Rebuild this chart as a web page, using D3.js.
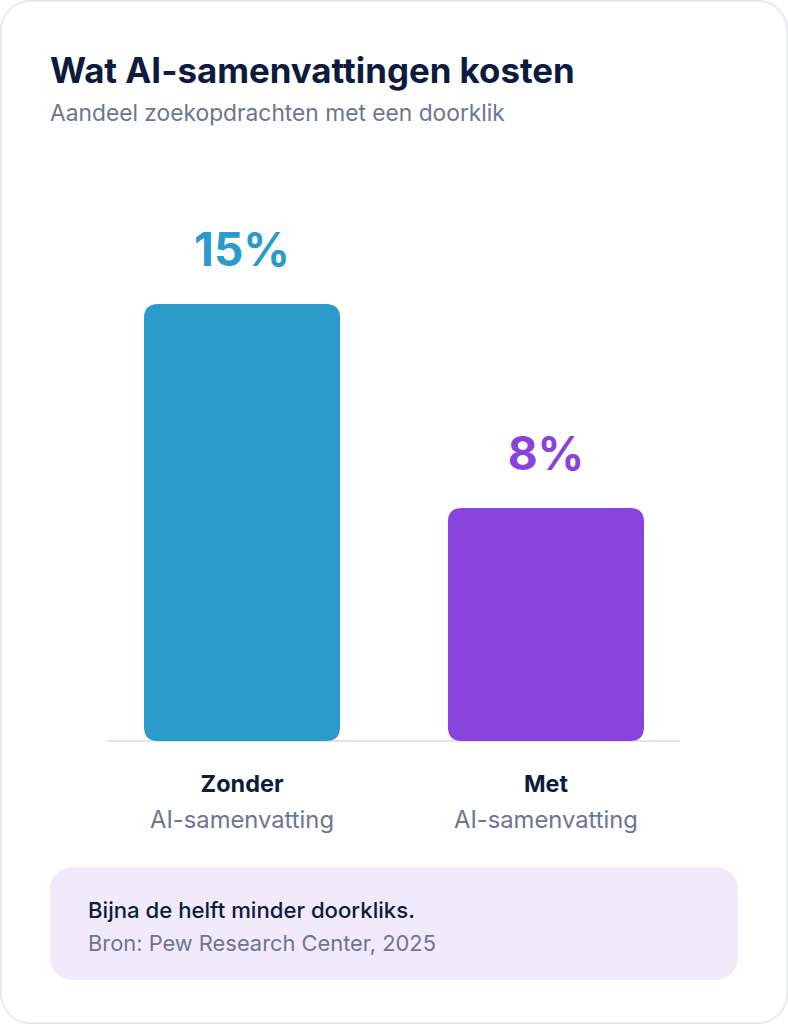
<!DOCTYPE html>
<html>
<head>
<meta charset="utf-8">
<script src="https://cdn.jsdelivr.net/npm/d3@7"></script>
<style>
  html, body { margin: 0; padding: 0; background: #ffffff; }
  svg { display: block; font-family: "Inter", "Noto Sans", sans-serif; }
</style>
</head>
<body>
<svg id="chart" width="788" height="1024"></svg>
<script>
// ---- data ----
const categories = ["Zonder", "Met"];
const subLabels = ["AI-samenvatting", "AI-samenvatting"];
const values = [15, 8];
const valueLabels = ["15%", "8%"];
const barColors = ["#2a9bcb", "#8843dc"];
const title = "Wat AI-samenvattingen kosten";
const subtitle = "Aandeel zoekopdrachten met een doorklik";
const noteLines = ["Bijna de helft minder doorkliks.", "Bron: Pew Research Center, 2025"];

// ---- layout ----
const W = 788, H = 1024;
const svg = d3.select("#chart");
const navy = "#0d1b3e", gray = "#6e7491";

// fit a text element's font size so its width matches a target (font widths differ from the original)
function fit(sel, target, base) {
  sel.attr("font-size", base);
  const w = sel.node().getComputedTextLength();
  sel.attr("font-size", base * target / w);
  return sel;
}

// card
svg.append("rect")
  .attr("x", 0.75).attr("y", 0.75).attr("width", W - 1.5).attr("height", H - 1.5)
  .attr("rx", 30).attr("fill", "#ffffff").attr("stroke", "#e4e5e8").attr("stroke-width", 1.5);

// titles
fit(svg.append("text").attr("x", 50).attr("y", 83)
  .attr("font-weight", 700).attr("fill", navy).text(title), 525, 30);
fit(svg.append("text").attr("x", 50).attr("y", 121)
  .attr("font-weight", 400).attr("fill", gray).text(subtitle), 455, 19);

// scales
const x = d3.scaleBand().domain(categories).range([144, 644]).paddingInner(0.355).paddingOuter(0);
const y = d3.scaleLinear().domain([0, 15]).range([741, 304]);

const data = categories.map((c, i) => ({ c, v: values[i], lab: valueLabels[i], sub: subLabels[i], col: barColors[i] }));

// baseline
svg.append("line")
  .attr("x1", 107).attr("x2", 680).attr("y1", y(0)).attr("y2", y(0))
  .attr("stroke", "#d9dbe0").attr("stroke-width", 1.5);

// bars with rounded corners
const r = 14;
function barPath(x0, y0, w, h) {
  return `M${x0},${y0 + r}
    Q${x0},${y0} ${x0 + r},${y0}
    H${x0 + w - r}
    Q${x0 + w},${y0} ${x0 + w},${y0 + r}
    V${y0 + h - r}
    Q${x0 + w},${y0 + h} ${x0 + w - r},${y0 + h}
    H${x0 + r}
    Q${x0},${y0 + h} ${x0},${y0 + h - r}
    Z`;
}
svg.selectAll("path.bar").data(data).join("path")
  .attr("class", "bar")
  .attr("d", d => barPath(x(d.c), y(d.v), x.bandwidth(), y(0) - y(d.v)))
  .attr("fill", d => d.col);

// value labels
const valTargets = [87, 68];
svg.selectAll("text.val").data(data).join("text")
  .attr("class", "val")
  .attr("x", d => x(d.c) + x.bandwidth() / 2)
  .attr("y", d => y(d.v) - 38)
  .attr("text-anchor", "middle")
  .attr("font-weight", 700)
  .attr("font-size", 46)
  .attr("fill", d => d.col)
  .text(d => d.lab);

// category labels
const catTargets = [83, 44];
svg.selectAll("text.cat").data(data).join("text")
  .attr("class", "cat")
  .attr("x", d => x(d.c) + x.bandwidth() / 2)
  .attr("y", 792)
  .attr("text-anchor", "middle")
  .attr("font-weight", 700)
  .attr("fill", navy)
  .text(d => d.c)
  .each(function(d, i) { fit(d3.select(this), catTargets[i], 21); });
svg.selectAll("text.sub").data(data).join("text")
  .attr("class", "sub")
  .attr("x", d => x(d.c) + x.bandwidth() / 2)
  .attr("y", 828)
  .attr("text-anchor", "middle")
  .attr("font-weight", 400)
  .attr("fill", gray)
  .text(d => d.sub)
  .each(function() { fit(d3.select(this), 184, 20); });

// note box
svg.append("rect")
  .attr("x", 50).attr("y", 867).attr("width", 688).attr("height", 113)
  .attr("rx", 22).attr("fill", "#f1eafb");
fit(svg.append("text").attr("x", 88).attr("y", 918)
  .attr("font-weight", 500).attr("fill", navy).text(noteLines[0]), 327, 18);
fit(svg.append("text").attr("x", 88).attr("y", 951)
  .attr("font-weight", 400).attr("fill", gray).text(noteLines[1]), 348, 18);
</script>
</body>
</html>
